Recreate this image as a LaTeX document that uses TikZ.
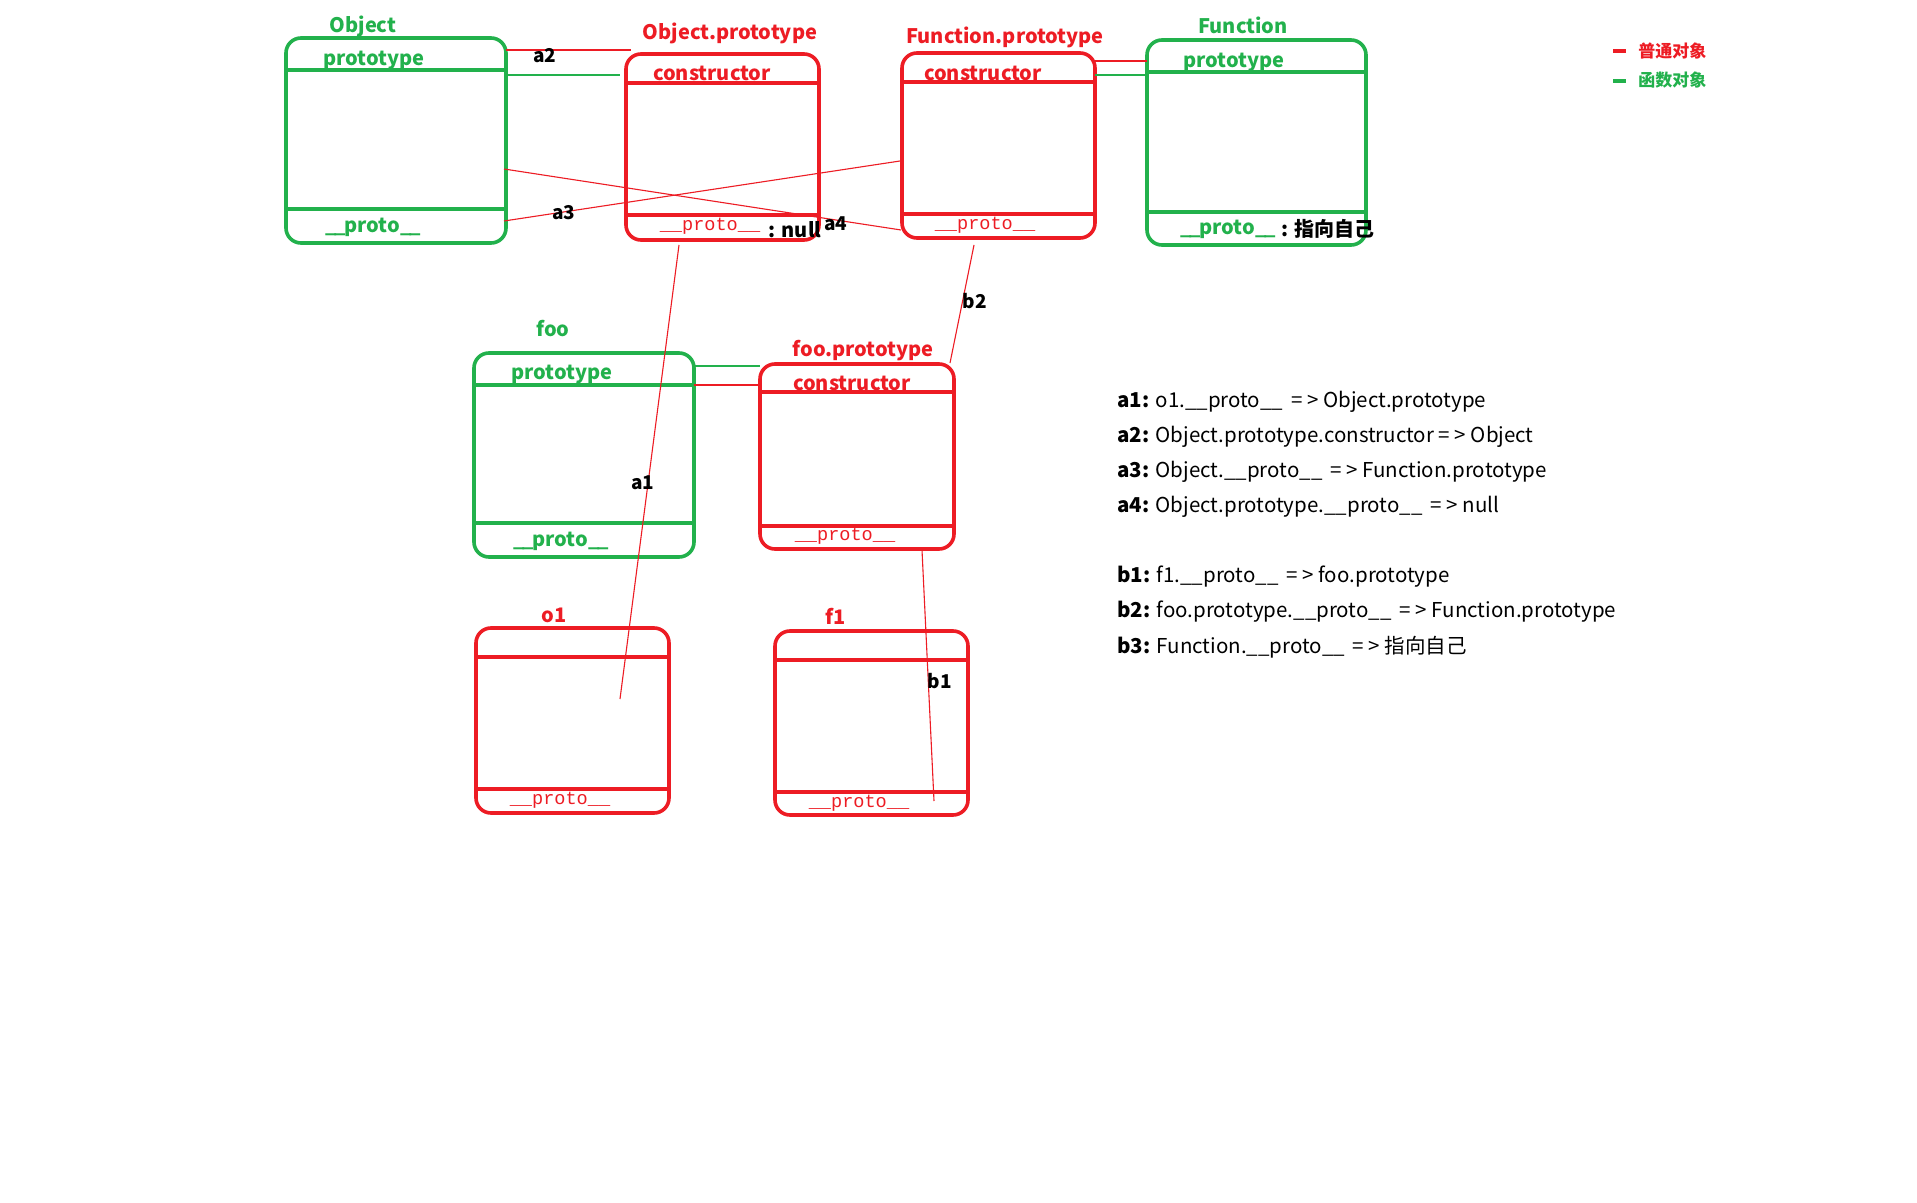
\documentclass[tikz,border=0pt]{standalone}
\usepackage{fontspec}
\setmainfont{Noto Sans CJK SC}
\newfontfamily\serproto{Liberation Mono}
\usetikzlibrary{fit}
\definecolor{ored}{HTML}{ED1C24}
\definecolor{ogreen}{HTML}{22B14C}
\newcommand\gproto{\_\kern-1.1pt\_\kern-0.6pt proto\_\kern-1.1pt\_}
\begin{document}
\begin{tikzpicture}[x=0.5pt,y=-0.5pt,
 box/.style={draw, rounded corners=7.5pt, line width=1.8pt, inner sep=0pt},
 div/.style={line width=1.8pt},
 lbl/.style={font=\fontsize{10}{12}\selectfont\bfseries, inner sep=0pt},
 sproto/.style={font=\serproto\fontsize{9.3}{10}\selectfont, text=ored, inner sep=0pt},
 link/.style={line width=0.55pt},
 tag/.style={font=\fontsize{9.5}{11}\selectfont\bfseries, inner sep=0pt},
 desc/.style={font=\fontsize{10.25}{12}\selectfont, anchor=west, inner sep=0pt},
 leg/.style={font=\fontsize{8.5}{10}\selectfont\bfseries, inner sep=0pt},
]
\useasboundingbox[fill=white] (0,0) rectangle (1917,1203);

% ---------- boxes ----------
\node[box, draw=ogreen, fit={(286,38) (506,243)}] (obj) {};
\draw[div, ogreen] (obj.west |- 0,70) -- (obj.east |- 0,70);
\draw[div, ogreen] (obj.west |- 0,209) -- (obj.east |- 0,209);
\node[lbl, text=ogreen] (objT) at (363,26) {Object};
\node[lbl, text=ogreen] (objP) at (374,60) {prototype};
\node[lbl, text=ogreen] (objQ) at (373,227) {\gproto};

\node[box, draw=ored, fit={(626,54) (819,240)}] (op) {};
\draw[div, ored] (op.west |- 0,83) -- (op.east |- 0,83);
\draw[div, ored] (op.west |- 0,215) -- (op.east |- 0,215);
\node[lbl, text=ored] (opT) at (730,33) {Object.prototype};
\node[lbl, text=ored] (opC) at (712,73) {constructor};
\node[sproto] (opQ) at (710,226) {\_\_proto\_\_};
\node[lbl] (opN) at (795,230) {: null};

\node[box, draw=ored, fit={(902,53) (1095,238)}] (fp) {};
\draw[div, ored] (fp.west |- 0,82) -- (fp.east |- 0,82);
\draw[div, ored] (fp.west |- 0,214) -- (fp.east |- 0,214);
\node[lbl, text=ored] (fpT) at (1005,37) {Function.prototype};
\node[lbl, text=ored] (fpC) at (983,73) {constructor};
\node[sproto] (fpQ) at (985,225) {\_\_proto\_\_};

\node[box, draw=ogreen, fit={(1147,40) (1366,245)}] (fn) {};
\draw[div, ogreen] (fn.west |- 0,72) -- (fn.east |- 0,72);
\draw[div, ogreen] (fn.west |- 0,212) -- (fn.east |- 0,212);
\node[lbl, text=ogreen] (fnT) at (1243,25) {Function};
\node[lbl, text=ogreen] (fnP) at (1234,62) {prototype};
\node[lbl, text=ogreen] (fnQ) at (1228,229) {\gproto};
\node[lbl, anchor=west] (fnS) at (1281,229) {: 指向自己};

\node[box, draw=ogreen, fit={(474,353) (694,557)}] (foo) {};
\draw[div, ogreen] (foo.west |- 0,385) -- (foo.east |- 0,385);
\draw[div, ogreen] (foo.west |- 0,523) -- (foo.east |- 0,523);
\node[lbl, text=ogreen] (fooT) at (553,329) {foo};
\node[lbl, text=ogreen] (fooP) at (562,374) {prototype};
\node[lbl, text=ogreen] (fooQ) at (561,541) {\gproto};

\node[box, draw=ored, fit={(760,364) (954,549)}] (fop) {};
\draw[div, ored] (fop.west |- 0,392) -- (fop.east |- 0,392);
\draw[div, ored] (fop.west |- 0,526) -- (fop.east |- 0,526);
\node[lbl, text=ored] (fopT) at (863,351) {foo.prototype};
\node[lbl, text=ored] (fopC) at (852,383) {constructor};
\node[sproto] (fopQ) at (845,536) {\_\_proto\_\_};

\node[box, draw=ored, fit={(476,628) (669,813)}] (o1) {};
\draw[div, ored] (o1.west |- 0,657) -- (o1.east |- 0,657);
\draw[div, ored] (o1.west |- 0,789) -- (o1.east |- 0,789);
\node[lbl, text=ored] (o1T) at (554,615) {o1};
\node[sproto] (o1Q) at (560,800) {\_\_proto\_\_};

\node[box, draw=ored, fit={(775,631) (968,815)}] (f1) {};
\draw[div, ored] (f1.west |- 0,660) -- (f1.east |- 0,660);
\draw[div, ored] (f1.west |- 0,792) -- (f1.east |- 0,792);
\node[lbl, text=ored] (f1T) at (836,616) {f1};
\node[sproto] (f1Q) at (859,803) {\_\_proto\_\_};

% ---------- connector end points ----------
\coordinate (a2r1) at (506,50);  \coordinate (a2r2) at (631,50);
\coordinate (a2g1) at (506,75);  \coordinate (a2g2) at (620,75);
\coordinate (ffr1) at (1095,61); \coordinate (ffr2) at (1147,61);
\coordinate (ffg1) at (1095,75); \coordinate (ffg2) at (1147,75);
\coordinate (fog1) at (694,366); \coordinate (fog2) at (760,366);
\coordinate (for1) at (694,385); \coordinate (for2) at (758,385);
\coordinate (a3s) at (504,221);  \coordinate (a3e) at (900,161);
\coordinate (a4s) at (504,169);  \coordinate (a4e) at (901,230);
\coordinate (a1s) at (679,245);  \coordinate (a1e) at (620,699);
\coordinate (b2s) at (974,245);  \coordinate (b2e) at (950,363);
\coordinate (b1s) at (922,550);  \coordinate (b1e) at (934,801);

% ---------- connectors ----------
\draw[link, ored] (a2r1) -- (a2r2);
\draw[link, ogreen] (a2g1) -- (a2g2);
\draw[link, ored] (ffr1) -- (ffr2);
\draw[link, ogreen] (ffg1) -- (ffg2);
\draw[link, ogreen] (fog1) -- (fog2);
\draw[link, ored] (for1) -- (for2);
\draw[link, ored] (a3s) -- (a3e);
\draw[link, ored] (a4s) -- (a4e);
\draw[link, ored] (a1s) -- (a1e);
\draw[link, ored] (b2s) -- (b2e);
\draw[link, ored] (b1s) -- (b1e);

% ---------- connector labels ----------
\node[tag] (ta2) at (545,56) {a2};
\node[tag] (ta3) at (564,213) {a3};
\node[tag] (ta4) at (836,224) {a4};
\node[tag] (ta1) at (643,483) {a1};
\node[tag] (tb2) at (975,301) {b2};
\node[tag] (tb1) at (940,681) {b1};

% ---------- description ----------
\node[desc] (d1) at (1117,402) {\textbf{a1:} o1.\_\_proto\_\_ \,= > Object.prototype};
\node[desc] (d2) at (1117,437) {\textbf{a2:} Object.prototype.constructor = > Object};
\node[desc] (d3) at (1117,472) {\textbf{a3:} Object.\_\_proto\_\_ \,= > Function.prototype};
\node[desc] (d4) at (1117,507) {\textbf{a4:} Object.prototype.\_\_proto\_\_ \,= > null};
\node[desc] (d5) at (1117,577) {\textbf{b1:} f1.\_\_proto\_\_ \,= > foo.prototype};
\node[desc] (d6) at (1117,612) {\textbf{b2:} foo.prototype.\_\_proto\_\_ \,= > Function.prototype};
\node[desc] (d7) at (1117,647) {\textbf{b3:} Function.\_\_proto\_\_ \,= > 指向自己};

% ---------- legend ----------
\coordinate (lr1) at (1613,51); \coordinate (lr2) at (1626,51);
\coordinate (lg1) at (1613,81); \coordinate (lg2) at (1626,81);
\draw[ored, line width=1.6pt] (lr1) -- (lr2);
\draw[ogreen, line width=1.6pt] (lg1) -- (lg2);
\node[leg, text=ored, anchor=west] (lt1) at (1638,51) {普通对象};
\node[leg, text=ogreen, anchor=west] (lt2) at (1638,80) {函数对象};
\end{tikzpicture}
\end{document}
